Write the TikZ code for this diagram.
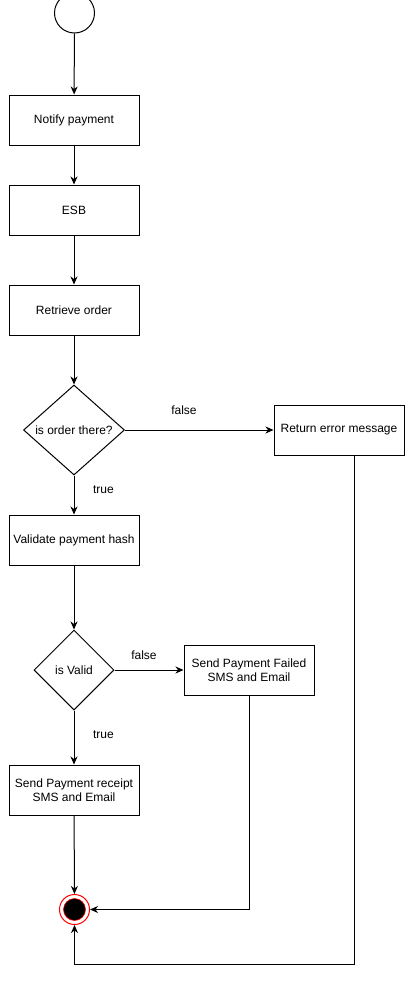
\documentclass[tikz,border=0pt]{standalone}
\usepackage{fontspec}
\setmainfont{Liberation Sans}
\usetikzlibrary{arrows.meta,shapes.geometric}
\begin{document}
\begin{tikzpicture}[x=1pt,y=-1pt,
  every node/.style={font=\fontsize{12pt}{14pt}\selectfont},
  box/.style={draw,line width=1pt,minimum width=130pt,minimum height=50pt,align=center,inner sep=0pt},
  dec/.style={draw,line width=1pt,diamond,aspect=1,inner sep=0pt,align=center},
  conn/.style={line width=1pt,-{Stealth[length=8pt,width=7pt,inset=2.5pt]}},
  lbl/.style={inner sep=0pt}]
\useasboundingbox (0,0) rectangle (410,983);
\node[draw,line width=1pt,circle,minimum size=40pt,inner sep=0pt] (start) at (74.5,13) {};
\node[box] (notify) at (74,120) {Notify payment};
\node[box] (esb) at (74,210) {ESB};
\node[box] (retr) at (74,310) {Retrieve order};
\node[dec,minimum width=101pt,minimum height=90pt] (d1) at (74,430) {is order there?};
\node[box] (err) at (339,430) {Return error message};
\node[box] (valid) at (74,540) {Validate payment hash};
\node[dec,minimum width=80pt,minimum height=80pt] (d2) at (74,670) {is Valid};
\node[box] (failed) at (249,670) {Send Payment Failed\\SMS and Email};
\node[box] (receipt) at (74,790) {Send Payment receipt\\SMS and Email};
\node[circle,draw=red,line width=1pt,minimum size=30pt,inner sep=0pt] (end) at (74.5,909.5) {};
\node[circle,draw=red,fill=black,line width=0.6pt,minimum size=22pt,inner sep=0pt] (endin) at (74.5,909.5) {};
\node[lbl] (lf1) at (184,410) {false};
\node[lbl] (lt1) at (103.5,490) {true};
\node[lbl] (lf2) at (144,655) {false};
\node[lbl] (lt2) at (103.5,735) {true};
\coordinate (c1) at (354,964);
\coordinate (c2) at (74.5,964);
\coordinate (c3) at (249,909.5);
\draw[conn] (start) -- (notify);
\draw[conn] (notify) -- (esb);
\draw[conn] (esb) -- (retr);
\draw[conn] (retr) -- (d1);
\draw[conn] (d1) -- (err);
\draw[conn] (d1) -- (valid);
\draw[conn] (valid) -- (d2);
\draw[conn] (d2) -- (failed);
\draw[conn] (d2) -- (receipt);
\draw[conn] (receipt) -- (end);
\draw[conn] (failed.south) -- (c3) -- (end.east);
\draw[conn] (err.south -| c1) -- (c1) -- (c2) -- (end.south);
\end{tikzpicture}
\end{document}
